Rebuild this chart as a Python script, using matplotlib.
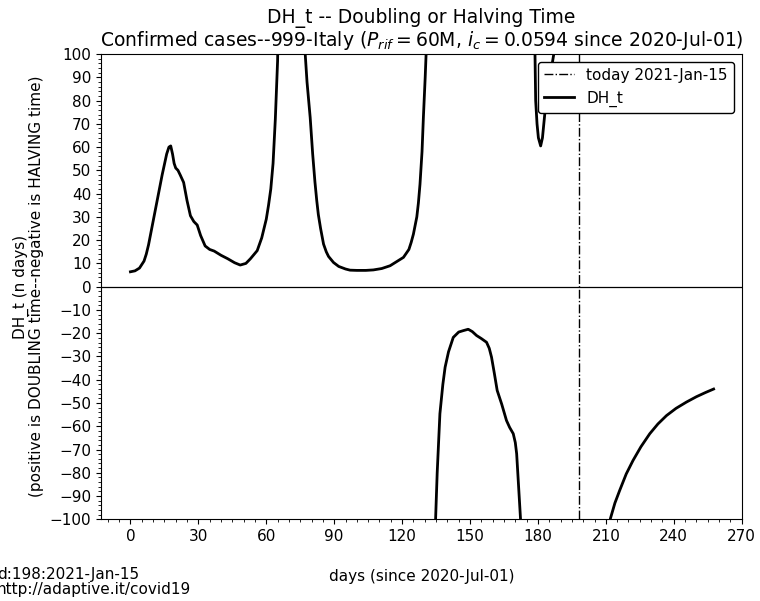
import matplotlib
matplotlib.use("Agg")
import matplotlib.pyplot as plt
import numpy as np
from matplotlib.ticker import MultipleLocator

# doubling / halving time; nan separates the branches
# that leave the +-100 window (values past the limits get clipped)
seg_up1_days = [0, 2, 4, 6, 7, 8, 10, 12, 14, 16, 17, 17.8, 18.6, 19.3, 20, 21, 22, 23.5, 25, 26.5, 28,
                29.5, 31, 33, 35, 37, 40, 43, 46, 48.5, 51, 53, 56, 58, 60, 61, 62, 63, 64, 65, 65.6]
seg_up1_vals = [6.4, 6.8, 8, 11, 14, 18, 28, 38, 48, 57, 60, 60.5, 57, 53, 51, 50, 48, 44.8, 37, 30.5, 28,
                26.5, 22, 17.5, 16, 15.3, 13.5, 12, 10.3, 9.3, 10, 12, 15.5, 21, 29, 35, 42, 53, 72, 97, 130]

seg_up2_days = [76.6, 77.2, 78, 79.4, 80.5, 81.5, 82.3, 83, 84, 85.3, 86.5, 87.5, 89.7, 92, 95, 97, 100, 104,
                107.3, 111, 114.7, 118, 120.6, 123, 124, 125, 126.5, 127.2, 127.9, 128.8, 129.4, 130.2,
                130.6, 131]
seg_up2_vals = [130, 100, 88, 72.7, 57, 45, 37, 31, 25, 18.3, 15, 13, 10.4, 8.7, 7.6, 7.1, 7, 7,
                7.2, 7.8, 9, 11, 12.6, 16, 19, 22.6, 30, 36, 44, 58, 72.7, 90, 100, 130]

seg_dn1_days = [134.7, 134.8, 135.5, 136.7, 138, 139, 140.5, 142.6, 145, 147, 149.2, 151, 152.9,
                155, 157.3, 158.5, 159.5, 160.7, 162, 164, 166.1, 167.5, 169.1, 170, 170.6, 171.3,
                172.3, 172.6]
seg_dn1_vals = [-130, -99.7, -80, -54.6, -42, -34.6, -28, -21.8, -19.5, -18.9, -18.3, -19.3, -21,
                -22.3, -23.9, -26.5, -30.3, -37, -44.6, -50.5, -57.5, -60.5, -63.2, -67, -71.8, -83,
                -99.7, -130]

seg_up3_days = [178.5, 178.7, 179, 179.6, 180.2, 181.2, 182, 183, 185, 187, 187.5]
seg_up3_vals = [130, 100, 80, 70, 64, 60.5, 64, 74, 88, 100, 120]

seg_dn2_days = [211.5, 212, 214, 216.1, 219, 222, 225.5, 229.4, 233, 236.8, 241, 245.6, 250, 254, 257.6]
seg_dn2_vals = [-130, -99.7, -93, -87.6, -80.5, -74.7, -68.8, -63.2, -59, -55.4, -52.3, -49.6,
                -47.3, -45.5, -44]

today_day = 198
today_label = "today 2021-Jan-15"

segments = [(seg_up1_days, seg_up1_vals), (seg_up2_days, seg_up2_vals), (seg_dn1_days, seg_dn1_vals),
            (seg_up3_days, seg_up3_vals), (seg_dn2_days, seg_dn2_vals)]
days = []
dh_t = []
for d, v in segments:
    days += list(d) + [np.nan]
    dh_t += list(v) + [np.nan]

plt.rcParams["font.size"] = 11

fig = plt.figure(figsize=(7.6, 6.01), dpi=100)
ax = fig.add_axes([0.1329, 0.1359, 0.843, 0.7742])

ax.axhline(0, color="black", linewidth=0.9)
ax.axvline(today_day, color="black", linestyle="-.", linewidth=1.0, label=today_label)
ax.plot(days, dh_t, color="black", linewidth=2.0, label="DH_t", solid_joinstyle="round")

ax.set_xlim(-13, 270)
ax.set_ylim(-100, 100)
ax.xaxis.set_major_locator(MultipleLocator(30))
ax.xaxis.set_minor_locator(MultipleLocator(5))
ax.yaxis.set_major_locator(MultipleLocator(10))
ax.yaxis.set_minor_locator(MultipleLocator(2))

ax.set_title("DH_t -- Doubling or Halving Time\n"
             r"Confirmed cases--999-Italy ($P_{rif}=$60M, $i_c=$0.0594 since 2020-Jul-01)",
             fontsize=13.5, linespacing=1.05)
ax.set_xlabel("days (since 2020-Jul-01)", labelpad=18)
ax.set_ylabel("DH_t (n days)\n(positive is DOUBLING time--negative is HALVING time)", labelpad=4,
              linespacing=1.05)

leg = ax.legend(loc="upper right", framealpha=1, fontsize=11)
leg.get_frame().set_edgecolor("black")

fig.text(-0.004, 0.031, "d:198:2021-Jan-15\nhttp://adaptive.it/covid19", fontsize=11,
         ha="left", va="center", linespacing=1.0)

fig.savefig("out.png", dpi=100)
